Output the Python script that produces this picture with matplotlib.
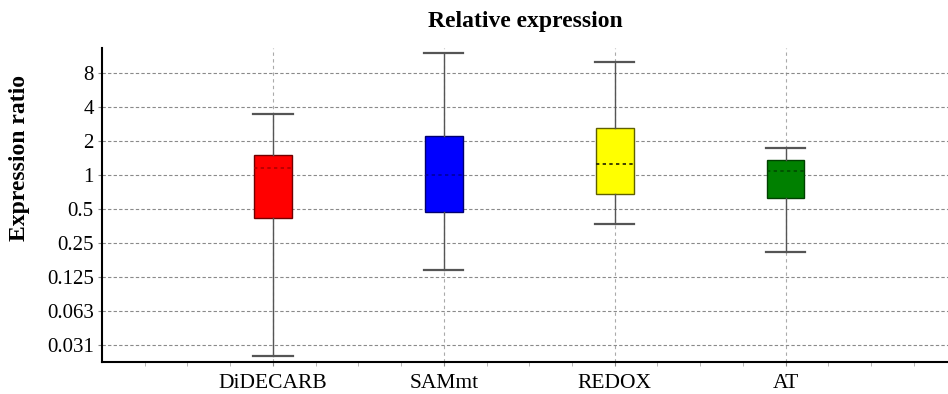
import matplotlib
matplotlib.use("Agg")
import matplotlib.pyplot as plt
import numpy as np

categories = ["DiDECARB", "SAMmt", "REDOX", "AT"]
whisker_low = [0.025, 0.143, 0.37, 0.21]
q1 = [0.418, 0.47, 0.68, 0.63]
median = [1.15, 1.0, 1.25, 1.09]
q3 = [1.50, 2.2, 2.6, 1.36]
whisker_high = [3.5, 12.1, 10.1, 1.73]
face_colors = ["#ff0000", "#0000ff", "#ffff00", "#008000"]
edge_colors = ["#700000", "#000070", "#606000", "#004000"]
median_colors = ["#b00000", "#0000a0", "#202000", "#004a00"]
ytick_vals = [0.03125, 0.0625, 0.125, 0.25, 0.5, 1, 2, 4, 8]
ytick_labels = ["0.031", "0.063", "0.125", "0.25", "0.5", "1", "2", "4", "8"]

plt.rcParams['font.family'] = ['Liberation Serif', 'DejaVu Serif']

fig = plt.figure(figsize=(9.48, 3.94), dpi=100)
ax = fig.add_axes([102/948, 32/394, 1 - 102/948, (362-48)/394])

positions = np.arange(1, len(categories) + 1)
stats = []
for i, c in enumerate(categories):
    stats.append(dict(med=median[i], q1=q1[i], q3=q3[i],
                      whislo=whisker_low[i], whishi=whisker_high[i],
                      fliers=[], label=c))

bp = ax.bxp(stats, positions=positions, widths=0.22, capwidths=0.23,
            patch_artist=True, showfliers=False,
            whiskerprops=dict(color="#555555", lw=1.0),
            capprops=dict(color="#555555", lw=1.6),
            medianprops=dict(lw=1.2, ls=(0, (2, 2))),
            zorder=3)
for i, b in enumerate(bp['boxes']):
    b.set_facecolor(face_colors[i])
    b.set_edgecolor(edge_colors[i])
    b.set_linewidth(1.0)
for i, m in enumerate(bp['medians']):
    m.set_color(median_colors[i])

ax.set_yscale('log', base=2)
ax.set_ylim(2 ** -5.5, 2 ** 3.735)
ax.set_xlim(0, 4.95)
ax.set_yticks(ytick_vals)
ax.set_yticklabels(ytick_labels)
ax.minorticks_off()
ax.set_xticks(positions)
ax.set_xticklabels(categories)
ax.set_xticks(np.arange(0.25, 4.95, 0.25), minor=True)

ax.grid(True, axis='y', color="#8a8a8a", ls=(0, (3, 2)), lw=0.8, zorder=0)
ax.grid(True, axis='x', which='major', color="#aaaaaa", ls=(0, (3, 3)), lw=0.8, zorder=0)

for s in ['top', 'right']:
    ax.spines[s].set_visible(False)
for s in ['left', 'bottom']:
    ax.spines[s].set_color('black')
    ax.spines[s].set_linewidth(1.5)

ax.tick_params(axis='y', labelsize=15, length=3, color="#888888", pad=3)
ax.tick_params(axis='x', which='major', labelsize=15.5, length=3, color="#888888", pad=6)
ax.tick_params(axis='x', which='minor', length=3, color="#aaaaaa")

ax.set_title("Relative expression", fontsize=17, fontweight='bold', pad=15)
fig.text(20/948, 1 - 158/394, "Expression ratio", rotation=90, fontsize=17,
         fontweight='bold', ha='center', va='center')

fig.savefig("out.png", dpi=100)
